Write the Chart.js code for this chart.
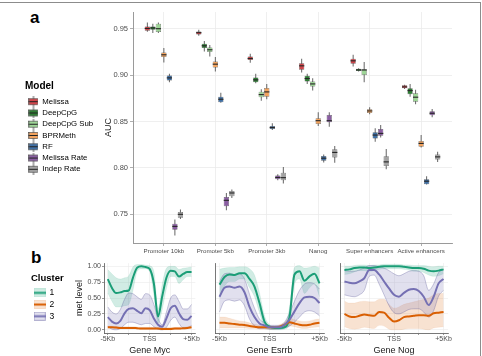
<!DOCTYPE html>
<html>
<head>
<meta charset="utf-8">
<script src="https://cdn.jsdelivr.net/npm/chart.js@4.4.0/dist/chart.umd.min.js"></script>
<style>
  body { margin: 0; width: 482px; height: 356px; background: #fff; position: relative; overflow: hidden;
         font-family: "Liberation Sans", Arial, sans-serif; }
  canvas { position: absolute; }
  .frame { position: absolute; left: -1px; top: 2px; width: 480px; height: 360px; border: 1px solid #8c8c8c; }
  .tag { position: absolute; font-weight: bold; font-size: 17px; line-height: 17px; color: #000; }
</style>
</head>
<body>
<div class="frame"></div>
<div class="tag" style="left:30px;top:9px">a</div>
<div class="tag" style="left:31px;top:249px">b</div>
<canvas id="auc" width="432" height="254" style="left:25px;top:4px"></canvas>
<canvas id="myc" width="169" height="98" style="left:31px;top:258px"></canvas>
<canvas id="esrrb" width="117" height="98" style="left:211px;top:258px"></canvas>
<canvas id="nog" width="116" height="98" style="left:336px;top:258px"></canvas>
<script>
const regions = ["Promoter 10kb", "Promoter 5kb", "Promoter 3kb", "Nanog", "Super enhancers", "Active enhancers"];
const models = ["Melissa", "DeepCpG", "DeepCpG Sub", "BPRMeth", "RF", "Melissa Rate", "Indep Rate"];
const modelColors = ["#d0464b", "#2e7d34", "#9dd596", "#f2a35e", "#3f6fa4", "#8a5ea2", "#a3a3a3"];
const aucTicks = [0.75, 0.80, 0.85, 0.90, 0.95];

// per region: [min, q1, median, q3, max]
const melissaBox = [[0.9468, 0.9478, 0.9503, 0.9525, 0.9568], [0.9424, 0.9438, 0.9457, 0.9471, 0.9489],
  [0.9132, 0.9162, 0.9179, 0.9201, 0.9230], [0.9028, 0.9057, 0.9100, 0.9129, 0.9176],
  [0.9092, 0.9122, 0.9154, 0.9176, 0.9219], [0.8851, 0.8859, 0.8873, 0.8891, 0.8895]];
const deepcpgBox = [[0.9453, 0.9490, 0.9508, 0.9525, 0.9554], [0.9255, 0.9291, 0.9316, 0.9338, 0.9367],
  [0.8913, 0.8924, 0.8949, 0.8974, 0.9014], [0.8905, 0.8930, 0.8963, 0.8992, 0.9014],
  [0.9038, 0.9043, 0.9056, 0.9068, 0.9075], [0.8768, 0.8794, 0.8833, 0.8859, 0.8905]];
const deepcpgSubBox = [[0.9453, 0.9464, 0.9500, 0.9554, 0.9568], [0.9200, 0.9248, 0.9273, 0.9298, 0.9324],
  [0.8725, 0.8762, 0.8790, 0.8822, 0.8848], [0.8833, 0.8876, 0.8905, 0.8930, 0.8967],
  [0.8924, 0.9000, 0.9055, 0.9064, 0.9140], [0.8686, 0.8714, 0.8762, 0.8805, 0.8841]];
const bprmethBox = [[0.9136, 0.9194, 0.9219, 0.9244, 0.9291], [0.9038, 0.9082, 0.9118, 0.9146, 0.9194],
  [0.8740, 0.8768, 0.8819, 0.8862, 0.8905], [0.8451, 0.8473, 0.8509, 0.8535, 0.8600],
  [0.8578, 0.8592, 0.8614, 0.8632, 0.8654], [0.8221, 0.8228, 0.8264, 0.8289, 0.8354]];
const rfBox = [[0.8924, 0.8941, 0.8970, 0.8995, 0.9014], [0.8703, 0.8708, 0.8740, 0.8768, 0.8811],
  [0.8408, 0.8418, 0.8435, 0.8451, 0.8482], [0.8059, 0.8076, 0.8105, 0.8128, 0.8145],
  [0.8282, 0.8318, 0.8354, 0.8383, 0.8427], [0.7821, 0.7824, 0.7857, 0.7878, 0.7911]];
const melissaRateBox = [[0.7273, 0.7334, 0.7370, 0.7399, 0.7443], [0.7543, 0.7586, 0.7651, 0.7687, 0.7730],
  [0.7868, 0.7878, 0.7897, 0.7918, 0.7932], [0.8444, 0.8491, 0.8509, 0.8570, 0.8600],
  [0.8329, 0.8347, 0.8372, 0.8419, 0.8462], [0.8545, 0.8567, 0.8589, 0.8611, 0.8635]];
const indepRateBox = [[0.7449, 0.7464, 0.7500, 0.7525, 0.7551], [0.7676, 0.7695, 0.7730, 0.7752, 0.7767],
  [0.7832, 0.7868, 0.7895, 0.7947, 0.8011], [0.8055, 0.8113, 0.8167, 0.8200, 0.8235],
  [0.7986, 0.8022, 0.8065, 0.8127, 0.8203], [0.8065, 0.8091, 0.8119, 0.8145, 0.8173]];

const tssPos = [-5000, -4500, -4000, -3500, -3000, -2500, -2000, -1500, -1000, -500, 0,
  500, 1000, 1500, 2000, 2500, 3000, 3500, 4000, 4500, 5000];
const tssTicks = [-5000, -2500, 0, 2500, 5000];
const tssTickLabels = ["-5Kb", "", "TSS", "", "+5Kb"];
const metTicks = [0, 0.25, 0.5, 0.75, 1];
const clusters = ["1", "2", "3"];
const clusterColors = ["#1b9e77", "#d95f02", "#7570b3"];
const clusterBands = ["rgba(27,158,119,0.2)", "rgba(217,95,2,0.18)", "rgba(117,112,179,0.22)"];
const clusterEdges = ["rgba(27,158,119,0.15)", "rgba(217,95,2,0.12)", "rgba(90,85,150,0.55)"];

// Gene Myc
const mycGreen = [0.80, 0.66, 0.58, 0.59, 0.61, 0.62, 0.82, 0.98, 1.00, 0.99, 0.96, 0.73, 0.21, 0.53, 0.82, 0.93, 0.92, 0.84, 0.88, 0.91, 0.91];
const mycGreenHi = [0.95, 0.88, 0.82, 0.80, 0.82, 0.85, 0.99, 1.03, 1.03, 1.02, 1.01, 0.92, 0.33, 0.72, 0.97, 1.00, 1.00, 0.95, 0.97, 0.98, 0.99];
const mycGreenLo = [0.58, 0.45, 0.36, 0.36, 0.38, 0.40, 0.62, 0.92, 0.96, 0.96, 0.92, 0.55, 0.10, 0.32, 0.65, 0.84, 0.84, 0.73, 0.79, 0.84, 0.84];
const mycOrange = [0.04, 0.04, 0.035, 0.03, 0.03, 0.03, 0.03, 0.025, 0.02, 0.02, 0.02, 0.02, 0.02, 0.015, 0.015, 0.015, 0.02, 0.02, 0.025, 0.03, 0.04];
const mycOrangeHi = [0.06, 0.06, 0.055, 0.05, 0.05, 0.05, 0.05, 0.045, 0.04, 0.04, 0.04, 0.04, 0.04, 0.035, 0.035, 0.035, 0.04, 0.04, 0.045, 0.05, 0.06];
const mycOrangeLo = [0.025, 0.025, 0.02, 0.015, 0.015, 0.015, 0.015, 0.01, 0.005, 0.005, 0.005, 0.005, 0.005, 0.0, 0.0, 0.0, 0.005, 0.005, 0.01, 0.015, 0.025];
const mycPurple = [0.20, 0.13, 0.10, 0.14, 0.26, 0.33, 0.34, 0.30, 0.26, 0.34, 0.31, 0.18, 0.08, 0.05, 0.18, 0.34, 0.38, 0.26, 0.17, 0.16, 0.22];
const mycPurpleHi = [0.36, 0.28, 0.25, 0.32, 0.48, 0.58, 0.57, 0.52, 0.48, 0.57, 0.55, 0.40, 0.18, 0.08, 0.28, 0.50, 0.55, 0.45, 0.33, 0.33, 0.40];
const mycPurpleLo = [0.05, 0.01, 0.00, 0.02, 0.08, 0.12, 0.12, 0.10, 0.08, 0.10, 0.10, 0.05, 0.01, 0.00, 0.04, 0.15, 0.20, 0.10, 0.03, 0.03, 0.07];

// Gene Esrrb
const esrrbGreen = [0.71, 0.83, 0.87, 0.86, 0.89, 0.89, 0.80, 0.68, 0.42, 0.13, 0.05, 0.03, 0.03, 0.04, 0.20, 0.87, 0.92, 0.77, 0.84, 0.88, 0.73];
const esrrbGreenHi = [0.95, 0.97, 0.98, 0.98, 0.99, 0.99, 0.96, 0.86, 0.58, 0.22, 0.08, 0.05, 0.05, 0.07, 0.35, 0.98, 1.01, 0.97, 0.98, 1.00, 0.97];
const esrrbGreenLo = [0.50, 0.68, 0.76, 0.76, 0.80, 0.80, 0.66, 0.52, 0.27, 0.05, 0.01, 0.00, 0.00, 0.01, 0.08, 0.72, 0.80, 0.57, 0.66, 0.72, 0.52];
const esrrbOrange = [0.11, 0.11, 0.10, 0.09, 0.08, 0.075, 0.06, 0.05, 0.04, 0.04, 0.04, 0.04, 0.05, 0.08, 0.12, 0.10, 0.08, 0.07, 0.08, 0.10, 0.11];
const esrrbOrangeHi = [0.20, 0.20, 0.18, 0.16, 0.14, 0.13, 0.11, 0.09, 0.07, 0.06, 0.06, 0.06, 0.08, 0.12, 0.18, 0.16, 0.14, 0.13, 0.14, 0.16, 0.17];
const esrrbOrangeLo = [0.03, 0.03, 0.03, 0.03, 0.03, 0.03, 0.02, 0.02, 0.01, 0.01, 0.01, 0.01, 0.02, 0.04, 0.06, 0.05, 0.03, 0.02, 0.03, 0.04, 0.05];
const esrrbPurple = [0.52, 0.66, 0.68, 0.66, 0.68, 0.59, 0.36, 0.20, 0.10, 0.07, 0.04, 0.04, 0.04, 0.08, 0.16, 0.29, 0.42, 0.51, 0.52, 0.50, 0.42];
const esrrbPurpleHi = [0.76, 0.88, 0.89, 0.87, 0.88, 0.80, 0.56, 0.34, 0.17, 0.11, 0.07, 0.07, 0.07, 0.12, 0.26, 0.45, 0.62, 0.72, 0.74, 0.72, 0.64];
const esrrbPurpleLo = [0.28, 0.45, 0.47, 0.45, 0.47, 0.38, 0.17, 0.06, 0.02, 0.02, 0.01, 0.01, 0.01, 0.03, 0.06, 0.12, 0.20, 0.28, 0.30, 0.28, 0.22];

// Gene Nog
const nogGreen = [0.94, 0.95, 0.97, 0.98, 0.98, 0.97, 0.98, 0.99, 1.00, 1.00, 1.00, 1.00, 0.99, 0.98, 0.97, 0.97, 0.96, 0.93, 0.92, 0.93, 0.95];
const nogGreenHi = [1.00, 1.00, 1.01, 1.02, 1.02, 1.01, 1.02, 1.02, 1.03, 1.03, 1.03, 1.03, 1.02, 1.02, 1.01, 1.01, 1.01, 1.00, 0.99, 1.00, 1.00];
const nogGreenLo = [0.87, 0.88, 0.91, 0.93, 0.93, 0.92, 0.93, 0.95, 0.96, 0.96, 0.96, 0.96, 0.95, 0.94, 0.92, 0.92, 0.90, 0.86, 0.84, 0.85, 0.88];
const nogOrange = [0.25, 0.21, 0.20, 0.22, 0.24, 0.23, 0.22, 0.28, 0.27, 0.19, 0.13, 0.15, 0.20, 0.21, 0.22, 0.23, 0.23, 0.22, 0.26, 0.27, 0.28];
const nogOrangeHi = [0.45, 0.42, 0.42, 0.44, 0.45, 0.44, 0.44, 0.48, 0.48, 0.40, 0.34, 0.36, 0.40, 0.42, 0.44, 0.46, 0.48, 0.50, 0.55, 0.57, 0.57];
const nogOrangeLo = [0.05, 0.02, 0.01, 0.02, 0.04, 0.03, 0.02, 0.07, 0.06, 0.01, 0.00, 0.00, 0.01, 0.02, 0.02, 0.02, 0.01, 0.00, 0.03, 0.04, 0.05];
const nogPurple = [0.76, 0.74, 0.73, 0.76, 0.81, 0.94, 0.94, 0.87, 0.76, 0.65, 0.55, 0.52, 0.58, 0.63, 0.64, 0.61, 0.52, 0.39, 0.52, 0.73, 0.80];
const nogPurpleHi = [0.93, 0.92, 0.92, 0.94, 0.97, 1.01, 1.01, 0.99, 0.97, 0.93, 0.88, 0.85, 0.88, 0.92, 0.93, 0.92, 0.85, 0.62, 0.72, 0.90, 0.95];
const nogPurpleLo = [0.55, 0.53, 0.52, 0.55, 0.62, 0.84, 0.86, 0.72, 0.55, 0.38, 0.27, 0.25, 0.28, 0.32, 0.33, 0.33, 0.28, 0.20, 0.30, 0.53, 0.62];

document.addEventListener("DOMContentLoaded", function () {
  Chart.defaults.font.family = "'Liberation Sans', Arial, sans-serif";
  Chart.defaults.color = "#4d4d4d";

  // little boxplot glyph for the Model legend
  function boxKey(color) {
    const c = document.createElement("canvas");
    c.width = 10; c.height = 11;
    const g = c.getContext("2d");
    g.fillStyle = "#5a5a5a";
    g.fillRect(4.5, 0, 1, 11);
    g.fillStyle = color;
    g.fillRect(0.5, 2.5, 9, 6);
    g.strokeStyle = "#444";
    g.lineWidth = 0.6;
    g.strokeRect(0.5, 2.5, 9, 6);
    g.fillStyle = "#222";
    g.fillRect(0.5, 5, 9, 1);
    return c;
  }

  // ribbon + line glyph for the Cluster legend
  function ribbonKey(k) {
    const c = document.createElement("canvas");
    c.width = 12; c.height = 9;
    const g = c.getContext("2d");
    g.fillStyle = clusterBands[k];
    g.fillRect(0, 0, 12, 9);
    g.strokeStyle = clusterEdges[k];
    g.lineWidth = 0.6;
    g.strokeRect(0.5, 0.5, 11, 8);
    g.fillStyle = clusterColors[k];
    g.fillRect(0, 3.5, 12, 2);
    return c;
  }

  const boxData = [melissaBox, deepcpgBox, deepcpgSubBox, bprmethBox, rfBox, melissaRateBox, indepRateBox];
  const aucDatasets = [];
  models.forEach(function (model, i) {
    const stats = boxData[i];
    aucDatasets.push({
      label: model + " median", stack: model, order: 0,
      data: stats.map((s, j) => ({x: j + 1, y: [s[2] - 0.0006, s[2] + 0.0006]})),
      backgroundColor: "#262626", barPercentage: 0.95, categoryPercentage: 0.75
    });
    aucDatasets.push({
      label: model, stack: model, order: 1,
      data: stats.map((s, j) => ({x: j + 1, y: [s[1], s[3]]})),
      backgroundColor: modelColors[i], borderColor: "#404040", borderWidth: 0.5, borderSkipped: false,
      barPercentage: 0.95, categoryPercentage: 0.75
    });
    aucDatasets.push({
      label: model + " whisker", stack: model, order: 2,
      data: stats.map((s, j) => ({x: j + 1, y: [s[0], s[4]]})),
      backgroundColor: "#5a5a5a", barPercentage: 0.17, categoryPercentage: 0.75
    });
  });

  new Chart(document.getElementById("auc"), {
    type: "bar",
    data: {datasets: aucDatasets},
    options: {
      responsive: false,
      animation: false,
      layout: {padding: {top: 8, right: 5, left: 0, bottom: 0}},
      plugins: {
        tooltip: {enabled: false},
        legend: {
          position: "left", align: "start", maxWidth: 72,
          title: {display: true, text: "Model", color: "#000", position: "start",
                  font: {size: 10, weight: "bold"}, padding: {top: 69, bottom: 1.3}},
          labels: {
            usePointStyle: true, pointStyleWidth: 10, padding: 3.47, color: "#1a1a1a", font: {size: 7.8},
            generateLabels: () => models.map((m, i) => ({
              text: m, pointStyle: boxKey(modelColors[i]), fillStyle: modelColors[i],
              lineWidth: 0, hidden: false, datasetIndex: i * 3 + 1
            }))
          }
        }
      },
      scales: {
        x: {
          type: "linear", min: 0.4, max: 6.6, offset: false,
          afterBuildTicks: s => { s.ticks = regions.map((r, i) => ({value: i + 1})); },
          afterFit: s => { s.height = 15; },
          ticks: {autoSkip: false, minRotation: 0, maxRotation: 0, padding: 2, font: {size: 6.2},
                  callback: (v, i) => regions[i]},
          grid: {offset: false, color: "#ebebeb", lineWidth: 0.8, tickColor: "#9a9a9a", tickLength: 3},
          border: {color: "#9a9a9a"}
        },
        y: {
          min: 0.7191, max: 0.968, stacked: false,
          afterBuildTicks: s => { s.ticks = aucTicks.map(v => ({value: v})); },
          afterFit: s => { s.width = 36; },
          ticks: {padding: 2, font: {size: 7.5}, callback: v => v.toFixed(2)},
          grid: {color: "#ebebeb", lineWidth: 0.8, tickColor: "#9a9a9a", tickLength: 3},
          border: {color: "#9a9a9a"},
          title: {display: true, text: "AUC", color: "#1a1a1a", font: {size: 9}, padding: {top: 6.6, bottom: 0}}
        }
      }
    }
  });

  function renderProfile(id, gene, series, first) {
    const datasets = [];
    const pts = v => v.map((y, i) => ({x: tssPos[i], y: y}));
    series.forEach(function (s, k) {
      datasets.push({label: clusters[k] + " low", data: pts(s[0]), borderColor: clusterEdges[k], borderWidth: 0.6,
                     pointRadius: 0, fill: false, order: 6 - k, cubicInterpolationMode: "monotone"});
      datasets.push({label: clusters[k] + " high", data: pts(s[2]), borderColor: clusterEdges[k], borderWidth: 0.6,
                     backgroundColor: clusterBands[k], pointRadius: 0, fill: "-1", order: 6 - k,
                     cubicInterpolationMode: "monotone"});
      datasets.push({label: clusters[k], data: pts(s[1]), borderColor: clusterColors[k], borderWidth: 2,
                     pointRadius: 0, fill: false, order: 3 - k, cubicInterpolationMode: "monotone"});
    });

    const legend = first ? {
      position: "left", align: "start", maxWidth: 33,
      title: {display: true, text: "Cluster", color: "#000", position: "start",
              font: {size: 9.5, weight: "bold"}, padding: {top: 11, bottom: 0}},
      labels: {
        usePointStyle: true, pointStyleWidth: 11, padding: 3.2, color: "#1a1a1a", font: {size: 8.5},
        generateLabels: () => clusters.map((c, k) => ({
          text: c, pointStyle: ribbonKey(k), fillStyle: clusterBands[k], lineWidth: 0, hidden: false, datasetIndex: k * 3 + 2
        }))
      }
    } : {display: false};

    new Chart(document.getElementById(id), {
      type: "line",
      data: {datasets: datasets},
      options: {
        responsive: false,
        animation: false,
        layout: {padding: {top: 5, right: 4, left: 0, bottom: 0}},
        plugins: {tooltip: {enabled: false}, legend: legend},
        scales: {
          x: {
            type: "linear", min: -5450, max: 5450,
            afterBuildTicks: s => { s.ticks = tssTicks.map(v => ({value: v})); },
            afterFit: s => { s.height = 23; },
            ticks: {autoSkip: false, maxRotation: 0, padding: 0, font: {size: 7}, callback: (v, i) => tssTickLabels[i]},
            grid: {color: "#ebebeb", lineWidth: 0.6, tickColor: "#555", tickLength: 2},
            border: {color: "#555", width: 0.8},
            title: {display: true, text: "Gene " + gene, color: "#1a1a1a", font: {size: 9}, padding: 0}
          },
          y: {
            min: -0.05, max: 1.05,
            afterBuildTicks: s => { s.ticks = metTicks.map(v => ({value: v})); },
            afterFit: s => { s.width = first ? 40 : 4; },
            ticks: {display: first, padding: 1, font: {size: 7}, callback: v => v.toFixed(2)},
            grid: {color: "#ebebeb", lineWidth: 0.6, tickColor: "#555", tickLength: 2, drawTicks: first},
            border: {color: "#555", width: 0.8},
            title: {display: first, text: "met level", color: "#1a1a1a", font: {size: 9}, padding: {top: 10.6, bottom: 0}}
          }
        }
      }
    });
  }

  renderProfile("myc", "Myc", [[mycGreenLo, mycGreen, mycGreenHi], [mycOrangeLo, mycOrange, mycOrangeHi],
    [mycPurpleLo, mycPurple, mycPurpleHi]], true);
  renderProfile("esrrb", "Esrrb", [[esrrbGreenLo, esrrbGreen, esrrbGreenHi], [esrrbOrangeLo, esrrbOrange, esrrbOrangeHi],
    [esrrbPurpleLo, esrrbPurple, esrrbPurpleHi]], false);
  renderProfile("nog", "Nog", [[nogGreenLo, nogGreen, nogGreenHi], [nogOrangeLo, nogOrange, nogOrangeHi],
    [nogPurpleLo, nogPurple, nogPurpleHi]], false);
});
</script>
</body>
</html>
